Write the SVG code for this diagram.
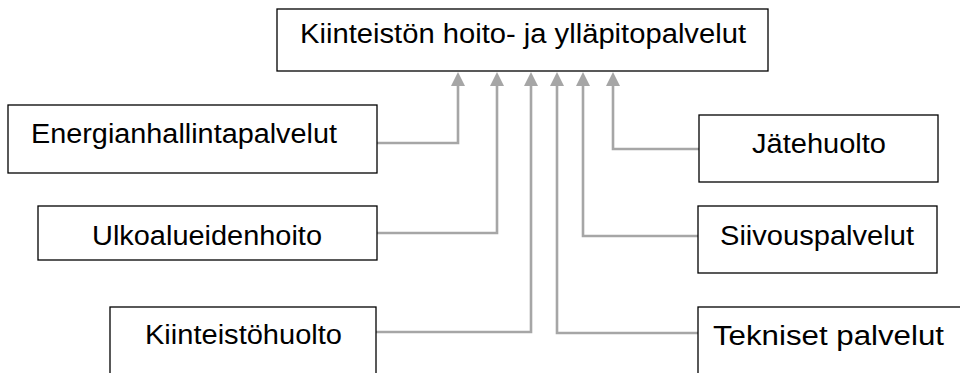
<svg xmlns="http://www.w3.org/2000/svg" width="960" height="373" viewBox="0 0 960 373">
<defs>
<style>
.box{fill:#fff;stroke:#000;stroke-width:1.3}
.t{font-family:"Liberation Sans",Arial,sans-serif;font-size:27px;fill:#000}
.c{fill:none;stroke:#a6a6a6;stroke-width:2.6}
</style>
<marker id="ah" viewBox="0 0 14 14" refX="0" refY="7" markerWidth="14" markerHeight="14" markerUnits="userSpaceOnUse" orient="auto">
<path d="M0,0 L14,7 L0,14 z" fill="#a6a6a6"/>
</marker>
</defs>
<rect width="960" height="373" fill="#fff"/>
<g id="connectors">
<path class="c" d="M377,143 H458 V86" marker-end="url(#ah)"/>
<path class="c" d="M377,233 H497 V86" marker-end="url(#ah)"/>
<path class="c" d="M376,332 H531 V86" marker-end="url(#ah)"/>
<path class="c" d="M698,333 H557 V86" marker-end="url(#ah)"/>
<path class="c" d="M698,236 H583 V86" marker-end="url(#ah)"/>
<path class="c" d="M699,149 H613 V86" marker-end="url(#ah)"/>
</g>
<g id="top">
<rect class="box" x="277" y="9" width="491" height="62"/>
<text class="t" x="300" y="43" textLength="446" lengthAdjust="spacingAndGlyphs">Kiinteistön hoito- ja ylläpitopalvelut</text>
</g>
<g id="energia">
<rect class="box" x="8" y="105" width="369" height="68"/>
<text class="t" x="31" y="143" textLength="306" lengthAdjust="spacingAndGlyphs">Energianhallintapalvelut</text>
</g>
<g id="ulko">
<rect class="box" x="38" y="206" width="339" height="54"/>
<text class="t" x="92" y="245" textLength="230" lengthAdjust="spacingAndGlyphs">Ulkoalueidenhoito</text>
</g>
<g id="kiinteistohuolto">
<rect class="box" x="110" y="307" width="266" height="80"/>
<text class="t" x="145" y="344" textLength="197" lengthAdjust="spacingAndGlyphs">Kiinteistöhuolto</text>
</g>
<g id="jate">
<rect class="box" x="699" y="115" width="239" height="67"/>
<text class="t" x="752" y="153" textLength="134" lengthAdjust="spacingAndGlyphs">Jätehuolto</text>
</g>
<g id="siivous">
<rect class="box" x="698" y="206" width="239" height="67"/>
<text class="t" x="720" y="245" textLength="194" lengthAdjust="spacingAndGlyphs">Siivouspalvelut</text>
</g>
<g id="tekniset">
<rect class="box" x="698" y="307" width="280" height="80"/>
<text class="t" x="713" y="345" textLength="231" lengthAdjust="spacingAndGlyphs">Tekniset palvelut</text>
</g>
</svg>
